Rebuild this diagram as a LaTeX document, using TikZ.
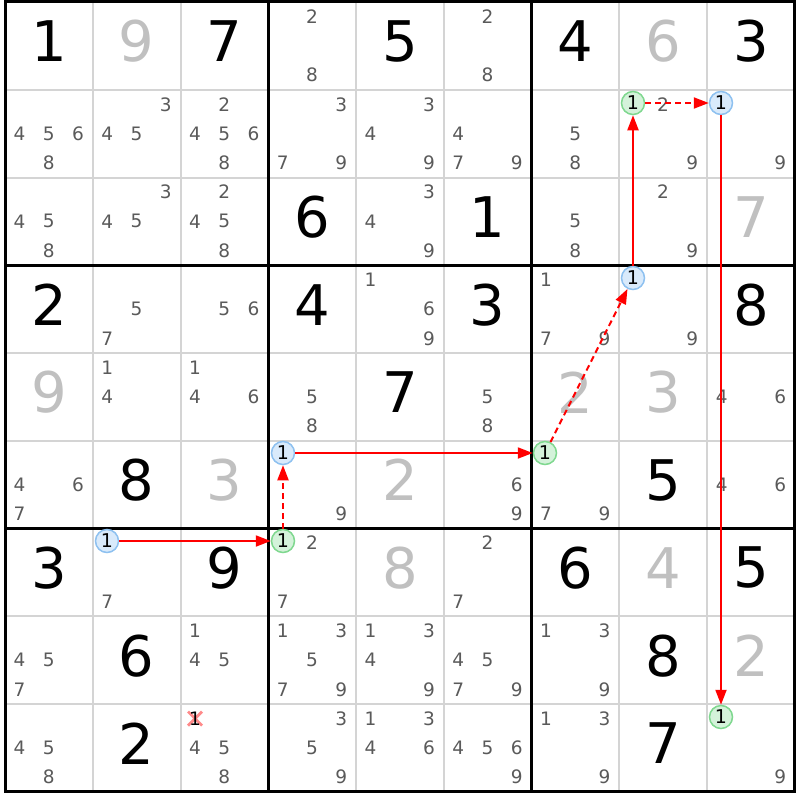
\documentclass[tikz,border=0pt]{standalone}
\usepackage{fontspec}
\setmainfont{DejaVu Sans}
\usetikzlibrary{arrows.meta,calc}
\definecolor{candgray}{HTML}{5A5A5A}
\definecolor{solvedgray}{HTML}{C0C0C0}
\definecolor{thingray}{HTML}{D4D4D4}
\definecolor{bluefill}{HTML}{D9EAFB}
\definecolor{bluedraw}{HTML}{8EC1F0}
\definecolor{greenfill}{HTML}{D4F2DA}
\definecolor{greendraw}{HTML}{7FD88F}
\definecolor{xpink}{HTML}{FF8A8A}
\definecolor{linkred}{HTML}{FF0000}
\tikzset{
  given/.style={inner sep=0pt,text=black,font=\fontsize{56}{56}\selectfont},
  solved/.style={inner sep=0pt,text=solvedgray,font=\fontsize{56}{56}\selectfont},
  cand/.style={inner sep=0pt,text=candgray,font=\fontsize{18.5}{18.5}\selectfont},
  hlblue/.style={circle,draw=bluedraw,fill=bluefill,line width=1.5pt,minimum size=23pt,inner sep=0pt,text=black,font=\fontsize{19}{19}\selectfont},
  hlgreen/.style={circle,draw=greendraw,fill=greenfill,line width=1.5pt,minimum size=23pt,inner sep=0pt,text=black,font=\fontsize{19}{19}\selectfont},
  strong/.style={color=linkred,line width=2pt,solid,-{Triangle[length=15pt,width=11pt]}},
  weak/.style={color=linkred,line width=2pt,dash pattern=on 6pt off 4pt,-{Triangle[length=15pt,width=11pt]}},
  thinline/.style={draw=thingray,line width=2pt},
  thickline/.style={draw=black,line width=3pt},
}
\newcommand\gv[4]{\node[#4] (v#1#2) at ({5+(#2-0.5)*87.75},{2+(#1-0.5)*87.75-4.5}) {#3};}
\newcommand\cd[3]{\foreach \d in {#3}{%
  \pgfmathtruncatemacro\kx{mod(\d-1,3)}%
  \pgfmathtruncatemacro\ky{div(\d-1,3)}%
  \node[cand] (c#1#2n\d) at ({5+(#2-1)*87.75+(\kx+0.5)*29.25},{2+(#1-1)*87.75+(\ky+0.5)*29.25}) {\d};}}
\begin{document}
\begin{tikzpicture}[x=1pt,y=-1pt]
\useasboundingbox (0,0) rectangle (800,800);
\fill[white] (0,0) rectangle (800,800);
% thin grid lines
\foreach \i in {1,2,4,5,7,8}{
  \draw[thinline] ({5+\i*87.75},2) -- ({5+\i*87.75},{2+9*87.75});
  \draw[thinline] (5,{2+\i*87.75}) -- ({5+9*87.75},{2+\i*87.75});
}
\foreach \i in {3,6}{
  \draw[thickline] ({5+\i*87.75},2) -- ({5+\i*87.75},{2+9*87.75});
  \draw[thickline] (5,{2+\i*87.75}) -- ({5+9*87.75},{2+\i*87.75});
}
\draw[thickline] (5,2) rectangle ({5+9*87.75},{2+9*87.75});
% givens
\gv11{1}{given}\gv13{7}{given}\gv15{5}{given}\gv17{4}{given}\gv19{3}{given}
\gv34{6}{given}\gv36{1}{given}
\gv41{2}{given}\gv44{4}{given}\gv46{3}{given}\gv49{8}{given}
\gv55{7}{given}
\gv62{8}{given}\gv68{5}{given}
\gv71{3}{given}\gv73{9}{given}\gv77{6}{given}\gv79{5}{given}
\gv82{6}{given}\gv88{8}{given}
\gv92{2}{given}\gv98{7}{given}
% solved
\gv12{9}{solved}\gv18{6}{solved}
\gv39{7}{solved}
\gv51{9}{solved}\gv57{2}{solved}\gv58{3}{solved}
\gv63{3}{solved}\gv65{2}{solved}
\gv75{8}{solved}\gv78{4}{solved}
\gv89{2}{solved}
% candidates
\cd14{2,8}\cd16{2,8}
\cd21{4,5,6,8}\cd22{3,4,5}\cd23{2,4,5,6,8}\cd24{3,7,9}\cd25{3,4,9}\cd26{4,7,9}\cd27{5,8}\cd28{2,9}\cd29{9}
\cd31{4,5,8}\cd32{3,4,5}\cd33{2,4,5,8}\cd35{3,4,9}\cd37{5,8}\cd38{2,9}
\cd42{5,7}\cd43{5,6}\cd45{1,6,9}\cd47{1,7,9}\cd48{9}
\cd52{1,4}\cd53{1,4,6}\cd54{5,8}\cd56{5,8}\cd59{4,6}
\cd61{4,6,7}\cd64{9}\cd66{6,9}\cd67{7,9}\cd69{4,6}
\cd72{7}\cd74{2,7}\cd76{2,7}
\cd81{4,5,7}\cd83{1,4,5}\cd84{1,3,5,7,9}\cd85{1,3,4,9}\cd86{4,5,7,9}\cd87{1,3,9}
\cd91{4,5,8}\cd93{4,5,8}\cd94{3,5,9}\cd95{1,3,4,6}\cd96{4,5,6,9}\cd97{1,3,9}\cd99{9}
% eliminated candidate
\coordinate (xc) at ({5+2*87.75+14.6},{2+8*87.75+14.6});
\draw[xpink,line width=2.8pt] ($(xc)+(-7,-7)$) -- ($(xc)+(7,7)$) ($(xc)+(-7,7)$) -- ($(xc)+(7,-7)$);
\node[cand,text=black] (elim) at (xc) {1};
% highlighted candidates (centres on whole pixels)
\node[hlblue]  (b1) at (107,541) {1};
\node[hlgreen] (g1) at (283,541) {1};
\node[hlblue]  (b2) at (283,453) {1};
\node[hlgreen] (g2) at (545,453) {1};
\node[hlblue]  (b3) at (633,278) {1};
\node[hlgreen] (g3) at (633,103) {1};
\node[hlblue]  (b4) at (721,103) {1};
\node[hlgreen] (g4) at (721,717) {1};
% chain: strong links
\draw[strong] (b1) -- (g1);
\draw[strong] (b2) -- (g2);
\draw[strong] (b3) -- (g3);
\draw[strong] (b4) -- (g4);
% chain: weak links
\draw[weak] (g1) -- (b2);
\draw[weak] (g2) -- (b3);
\draw[weak] (g3) -- (b4);
\end{tikzpicture}
\end{document}
